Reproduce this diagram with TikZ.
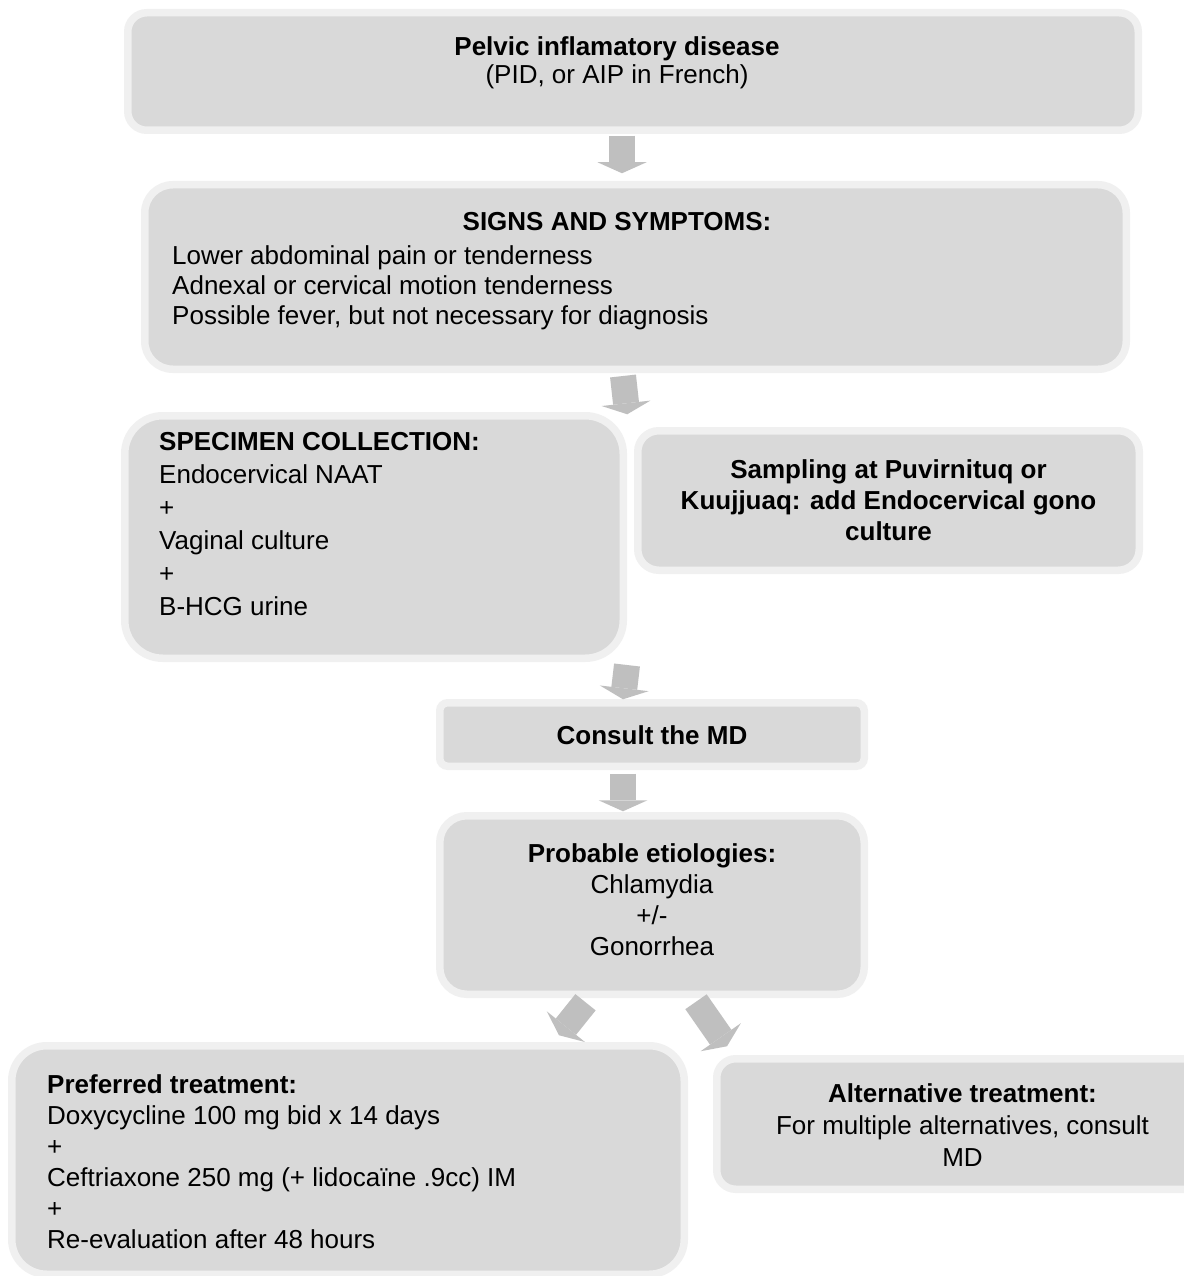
\documentclass[tikz,border=0pt]{standalone}
\usepackage{fontspec}
\setmainfont{Liberation Sans}
\usetikzlibrary{arrows.meta,calc}
\definecolor{boxfill}{HTML}{D9D9D9}
\definecolor{boxedge}{HTML}{F0F0F0}
\definecolor{arrowfill}{HTML}{BFBFBF}
\tikzset{
  box/.style={draw=boxedge, fill=boxfill, line width=7.5pt, inner sep=0pt},
  barrow/.style={draw=arrowfill, line width=26pt,
    -{Triangle[width=49pt,length=11pt,line width=0pt]}},
  txt/.style={inner sep=0pt, font=\fontsize{26}{31}\selectfont},
  btxt/.style={txt, font=\fontsize{26}{31}\selectfont\bfseries},
}
\begin{document}
\begin{tikzpicture}[x=1pt,y=-1pt]
\useasboundingbox[fill=white] (0,0) rectangle (1183,1276);

% boxes
\node[box, rounded corners=19pt, minimum width=1010.5pt, minimum height=117.5pt] (b1) at (633,71.5) {};
\node[box, rounded corners=28pt, minimum width=981.5pt, minimum height=184.5pt] (b2) at (635.5,277) {};
\node[box, rounded corners=38pt, minimum width=498.5pt, minimum height=242.5pt] (b3) at (374,537) {};
\node[box, rounded corners=21pt, minimum width=501.5pt, minimum height=139.5pt] (b4) at (888.5,500.5) {};
\node[box, rounded corners=8pt, minimum width=424.5pt, minimum height=63.5pt] (b5) at (652,734.5) {};
\node[box, rounded corners=27pt, minimum width=424.5pt, minimum height=178.5pt] (b6) at (652,905) {};
\node[box, rounded corners=35pt, minimum width=672.5pt, minimum height=228.5pt] (b7) at (348,1160) {};
\node[box, rounded corners=19pt, minimum width=491.5pt, minimum height=130.5pt] (b8) at (962.5,1124) {};

% arrows
\draw[barrow] ($(b1.south)+(-11,1.75)$) -- ($(b2.north)+(-13.5,-7.75)$);
\draw[barrow] ($(b2.south)+(-12.5,3)$) -- ($(b3.north east)+(0.25,2.25)$);
\draw[barrow] ($(b3.south east)+(0,3)$) -- ($(b5.north)+(-29,0.25)$);
\draw[barrow] ($(b5.south)+(-29,3.75)$) -- ($(b6.north)+(-29,-0.75)$);
\draw[barrow] ($(b6.south)+(-66.5,4.25)$) -- ($(b7.north)+(211,-6.75)$);
\draw[barrow] ($(b6.south)+(44,3.75)$) -- ($(b8.north)+(-235.5,-8.75)$);

% texts box 1
\node[btxt, anchor=base] (t1a) at (617,56) {Pelvic inflamatory disease};
\node[txt, anchor=base] (t1b) at (617,84) {(PID, or AIP in French)};

% box 2
\node[btxt, anchor=base] (t2a) at (617,230) {SIGNS AND SYMPTOMS:};
\foreach \s [count=\i from 0] in {{Lower abdominal pain or tenderness},{Adnexal or cervical motion tenderness},{Possible fever, but not necessary for diagnosis}}
  \node[txt, anchor=base west] (t2l\i) at (172,264+30*\i) {\s};

% box 3
\node[btxt, anchor=base west] (t3a) at (159,450) {SPECIMEN COLLECTION:};
\foreach \s [count=\i from 0] in {{Endocervical NAAT},{+},{Vaginal culture},{+},{B-HCG urine}}
  \node[txt, anchor=base west] (t3l\i) at (159,483+33*\i) {\s};

% box 4
\foreach \s [count=\i from 0] in {{Sampling at Puvirnituq or},{Kuujjuaq: add Endocervical gono},{culture}}
  \node[btxt, anchor=base] (t4l\i) at (888.5,478+31*\i) {\s};

% box 5
\node[btxt, anchor=base] (t5) at (652,744) {Consult the MD};

% box 6
\node[btxt, anchor=base] (t6a) at (652,862) {Probable etiologies:};
\foreach \s [count=\i from 0] in {{Chlamydia},{+/-},{Gonorrhea}}
  \node[txt, anchor=base] (t6l\i) at (652,893+31*\i) {\s};

% box 7
\node[btxt, anchor=base west] (t7a) at (47,1093) {Preferred treatment:};
\foreach \s [count=\i from 0] in {{Doxycycline 100 mg bid x 14 days},{+},{Ceftriaxone 250 mg (+ lidocaïne .9cc) IM},{+},{Re-evaluation after 48 hours}}
  \node[txt, anchor=base west] (t7l\i) at (47,1124+31*\i) {\s};

% box 8
\node[btxt, anchor=base] (t8a) at (962.5,1102) {Alternative treatment:};
\foreach \s [count=\i from 0] in {{For multiple alternatives, consult},{MD}}
  \node[txt, anchor=base] (t8l\i) at (962.5,1134+32*\i) {\s};
\end{tikzpicture}
\end{document}
